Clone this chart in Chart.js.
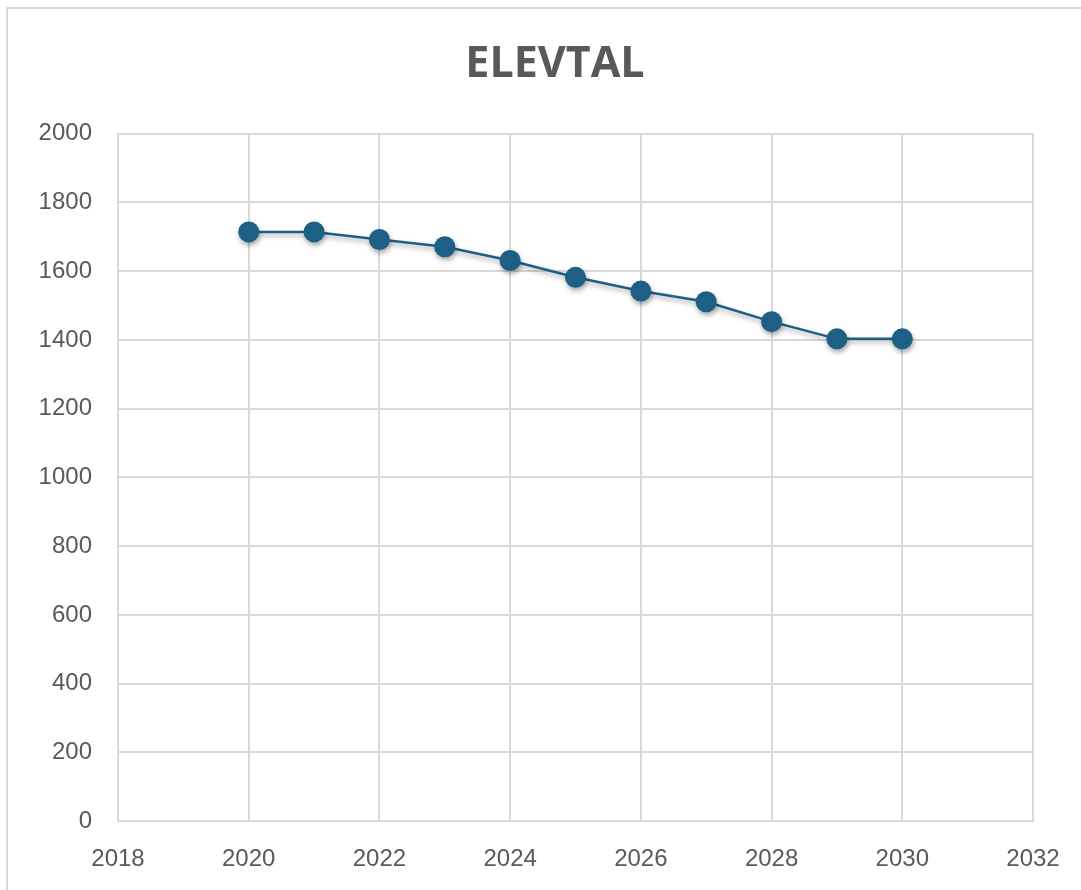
<!DOCTYPE html>
<html>
<head>
<meta charset="utf-8">
<script src="https://cdn.jsdelivr.net/npm/chart.js@4"></script>
<style>
  html, body { margin: 0; padding: 0; background: #fff; overflow: hidden; }
  #frame {
    position: absolute; left: 6px; top: 7px; width: 1200px; height: 1000px;
    border: 2px solid #d9d9d9; box-sizing: border-box;
  }
  #elevChart { position: absolute; left: 0; top: 0; }
</style>
</head>
<body>
<div id="frame"></div>
<canvas id="elevChart" width="1110" height="898"></canvas>
<script>
// data
var years = [2020, 2021, 2022, 2023, 2024, 2025, 2026, 2027, 2028, 2029, 2030];
var elevtal = [1714, 1714, 1692, 1671, 1631, 1582, 1542, 1511, 1453, 1403, 1403];

// axes
var xMin = 2018, xMax = 2032, xStep = 2;
var yMin = 0, yMax = 2000, yStep = 200;

var points = [];
for (var i = 0; i < years.length; i++) {
  points.push({ x: years[i], y: elevtal[i] });
}

// soft shadow under the line and markers
var shadowPlugin = {
  id: "shadow",
  beforeDatasetsDraw: function (chart) {
    var c = chart.ctx;
    c.save();
    c.shadowColor = "rgba(0,0,0,0.35)";
    c.shadowBlur = 5;
    c.shadowOffsetX = 1;
    c.shadowOffsetY = 3;
  },
  afterDatasetsDraw: function (chart) {
    chart.ctx.restore();
  },
};

var ctx = document.getElementById("elevChart").getContext("2d");
new Chart(ctx, {
  type: "line",
  data: {
    datasets: [
      {
        label: "ELEVTAL",
        data: points,
        borderColor: "#1d5f85",
        backgroundColor: "#1d5f85",
        borderWidth: 2.5,
        pointRadius: 10.5,
        pointHoverRadius: 10.5,
        pointBorderWidth: 0,
        tension: 0,
      },
    ],
  },
  plugins: [shadowPlugin],
  options: {
    responsive: false,
    animation: false,
    devicePixelRatio: 1,
    layout: { padding: 0 },
    plugins: {
      legend: { display: false },
      tooltip: { enabled: false },
      title: {
        display: true,
        text: "ELEVTAL",
        color: "#595959",
        font: { family: "'Open Sans', 'Noto Sans', sans-serif", size: 43, weight: "bold" },
        padding: { top: 39, bottom: 43 },
      },
    },
    scales: {
      x: {
        type: "linear",
        min: xMin,
        max: xMax,
        grid: { color: "#d9d9d9", lineWidth: 2, drawTicks: false },
        border: { display: true, color: "#d9d9d9", width: 2 },
        ticks: {
          stepSize: xStep,
          padding: 24,
          color: "#595959",
          font: { family: "'Liberation Sans', Arial, sans-serif", size: 24 },
          callback: function (v) { return String(v); },
        },
      },
      y: {
        min: yMin,
        max: yMax,
        grid: { color: "#d9d9d9", lineWidth: 2, drawTicks: false },
        border: { display: true, color: "#d9d9d9", width: 2 },
        ticks: {
          stepSize: yStep,
          padding: 26,
          color: "#595959",
          font: { family: "'Liberation Sans', Arial, sans-serif", size: 24 },
          callback: function (v) { return String(v); },
        },
        afterFit: function (scale) { scale.width = 118; },
      },
      // empty spacer on the right, keeps the title centred on the wider frame
      spacer: {
        type: "linear",
        position: "right",
        grid: { display: false },
        border: { display: false },
        ticks: { display: false },
        afterFit: function (scale) { scale.width = 77; },
      },
    },
  },
});
</script>
</body>
</html>
